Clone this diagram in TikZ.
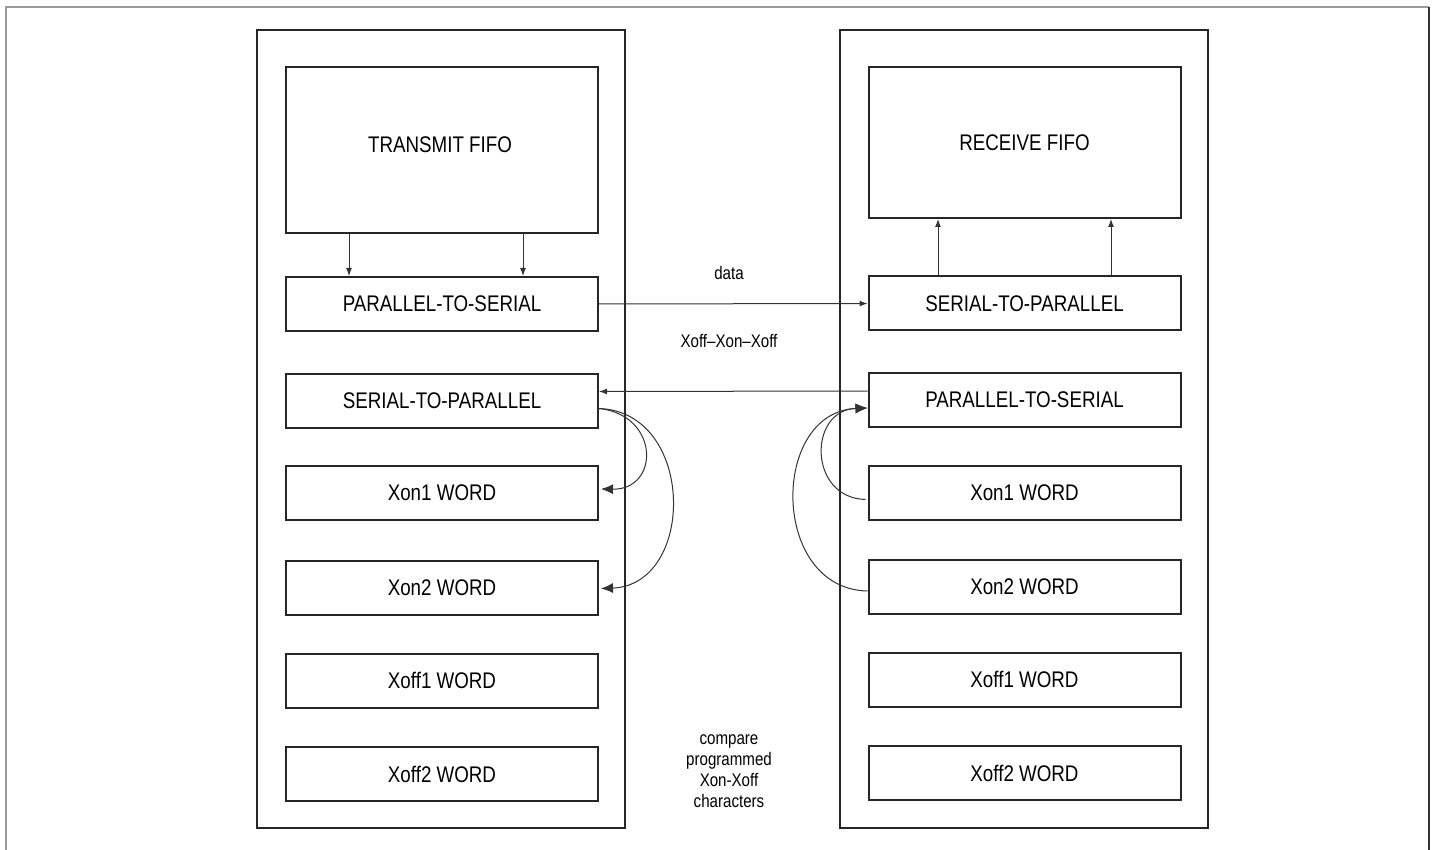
\documentclass[tikz,border=0pt]{standalone}
\usepackage{fontspec}
\setmainfont{Liberation Sans}[FakeStretch=0.83]
\usetikzlibrary{arrows.meta}
\begin{document}
\begin{tikzpicture}[x=0.5pt,y=-0.5pt,
  blk/.style={draw=black!85,line width=1pt,minimum width=156pt,minimum height=27pt,inner sep=0pt,font=\fontsize{11.3}{12}\selectfont},
  fifo/.style={blk,minimum height=83pt},
  big/.style={draw=black!85,line width=1pt,minimum width=184pt,minimum height=399pt,inner sep=0pt},
  lbl/.style={font=\fontsize{9.1}{10.5}\selectfont,align=center,inner sep=0pt},
  sarr/.style={draw=black!80,line width=0.5pt,-{Latex[length=4pt,width=3pt]}},
  carr/.style={draw=black!80,line width=0.5pt,-{Latex[length=6pt,width=5pt]}}]
\useasboundingbox (0,0) rectangle (1435,850);
\draw[gray!80,line width=1pt] (6,850) -- (6,7) -- (1429,7);
\draw[black!80,line width=1pt] (1429,7) -- (1429,850);
% big boxes
\node[big] (lbig) at (441,429) {};
\node[big] (rbig) at (1024,429) {};
% left boxes
\node[fifo] (tf) at (442,150) {};
\node[inner sep=0pt,font=\fontsize{11.3}{12}\selectfont] (tft) at (440,145) {TRANSMIT FIFO};
\node[blk] (lp2s) at (442,304) {PARALLEL-TO-SERIAL};
\node[blk] (ls2p) at (442,400.5) {SERIAL-TO-PARALLEL};
\node[blk] (lxon1) at (442,493) {Xon1 WORD};
\node[blk] (lxon2) at (442,587.5) {Xon2 WORD};
\node[blk] (lxoff1) at (442,680.5) {Xoff1 WORD};
\node[blk] (lxoff2) at (442,774) {Xoff2 WORD};
% right boxes
\node[blk,minimum height=75.5pt] (rf) at (1024.5,142.5) {RECEIVE FIFO};
\node[blk] (rs2p) at (1024.5,303.5) {SERIAL-TO-PARALLEL};
\node[blk] (rp2s) at (1024.5,400) {PARALLEL-TO-SERIAL};
\node[blk] (rxon1) at (1024.5,492.5) {Xon1 WORD};
\node[blk] (rxon2) at (1024.5,587) {Xon2 WORD};
\node[blk] (rxoff1) at (1024.5,679.5) {Xoff1 WORD};
\node[blk] (rxoff2) at (1024.5,773) {Xoff2 WORD};
% labels
\node[lbl] (ldata) at (729,273) {data};
\node[lbl] (lxx) at (729,341) {Xoff–Xon–Xoff};
\node[lbl] (lcmp) at (729,771) {compare\\programmed\\Xon-Xoff\\characters};
% vertical arrows
\draw[sarr] ([xshift=-46.5pt]tf.south) -- ([xshift=-46.5pt]lp2s.north);
\draw[sarr] ([xshift=40.5pt]tf.south) -- ([xshift=40.5pt]lp2s.north);
\draw[sarr] ([xshift=-43.25pt]rs2p.north) -- ([xshift=-43.25pt]rf.south);
\draw[sarr] ([xshift=43.25pt]rs2p.north) -- ([xshift=43.25pt]rf.south);
% horizontal arrows
\draw[sarr] (lp2s.east) -- (rs2p.west);
\draw[sarr] ([yshift=4.5pt]rp2s.west) -- ([yshift=4.5pt]ls2p.east);
% curved arrows left
\draw[carr] ([yshift=-4pt]ls2p.east) .. controls (660,415) and (660,490) .. ([xshift=1pt,yshift=2pt]lxon1.east);
\draw[carr] ([yshift=-4pt]ls2p.east) .. controls (696,412) and (696,585) .. ([xshift=1pt,yshift=-0.5pt]lxon2.east);
% curved arrows right
\draw[carr] ([xshift=-1pt,yshift=-3.5pt]rxon1.west) .. controls (808,498) and (808,410) .. ([yshift=-4pt]rp2s.west);
\draw[carr] ([yshift=-2pt]rxon2.west) .. controls (770,589) and (770,412) .. ([yshift=-4pt]rp2s.west);
\end{tikzpicture}
\end{document}
